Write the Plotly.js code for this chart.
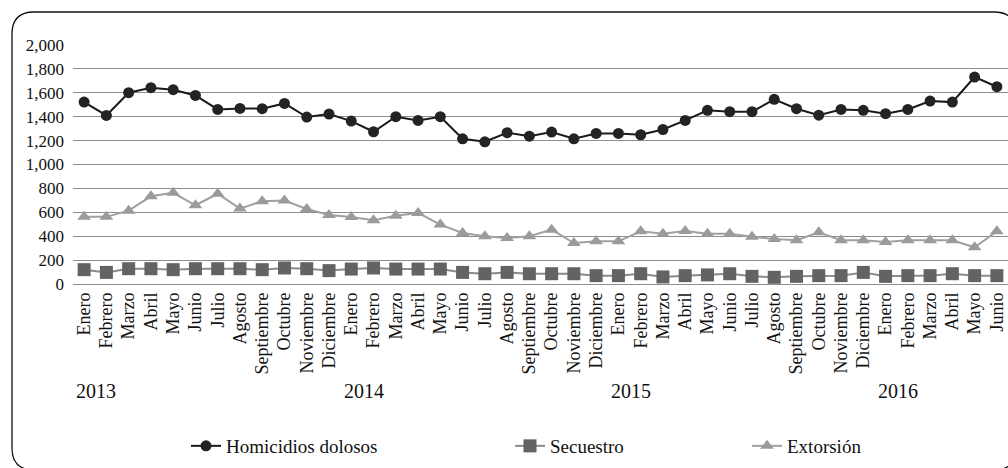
<!DOCTYPE html>
<html>
<head>
<meta charset="utf-8">
<script src="https://cdn.plot.ly/plotly-3.0.1.min.js"></script>
<style>
  html, body { margin: 0; padding: 0; background: #fff; }
  #chart { width: 1008px; height: 468px; }
</style>
</head>
<body>
<div id="chart"></div>
<script>
// ---- Data ----
const months = ["Enero","Febrero","Marzo","Abril","Mayo","Junio","Julio","Agosto","Septiembre","Octubre","Noviembre","Diciembre"];
const years = ["2013","2014","2015","2016"];
const monthsInLastYear = 6;

const homicidios = [1522,1411,1601,1643,1626,1578,1461,1469,1467,1511,1397,1422,
                    1363,1274,1400,1369,1400,1215,1190,1266,1237,1271,1215,1260,
                    1260,1249,1293,1369,1453,1442,1442,1545,1467,1413,1461,1453,
                    1425,1461,1531,1522,1732,1651];
const secuestro  = [120,97,128,128,120,128,128,128,120,134,128,112,
                    125,134,125,125,125,97,86,97,86,86,86,70,
                    70,86,59,70,76,86,64,56,64,70,70,97,
                    64,70,70,86,70,70];
const extorsion  = [562,562,614,734,763,659,755,631,693,698,628,578,
                    561,533,572,595,497,427,399,385,399,455,343,357,
                    357,441,421,444,421,421,396,377,366,433,366,366,
                    352,366,366,366,307,441];

// ---- Build categories ----
const tickText = [];
years.forEach((y, i) => {
  const n = (i === years.length - 1) ? monthsInLastYear : 12;
  for (let m = 0; m < n; m++) tickText.push(months[m]);
});
const xIdx = tickText.map((_, i) => i);

// ---- Geometry helpers (pixel -> paper) ----
const W = 1008, H = 468;
const M = { l: 73, r: 0, t: 45, b: 184 };
const PW = W - M.l - M.r, PH = H - M.t - M.b;
const px = v => (v - M.l) / PW;
const py = v => (H - M.b - v) / PH;

const FONT = 'Liberation Serif, Times New Roman, serif';

const traces = [
  { x: xIdx, y: homicidios, name: "Homicidios dolosos", type: "scatter", mode: "lines+markers",
    line: { color: "#1a1a1a", width: 2 }, marker: { symbol: "circle", size: 11, color: "#232323" },
    legend: "legend" },
  { x: xIdx, y: secuestro, name: "Secuestro", type: "scatter", mode: "lines+markers",
    line: { color: "#8a8a8a", width: 2 }, marker: { symbol: "square", size: 13, color: "#636363" },
    legend: "legend2" },
  { x: xIdx, y: extorsion, name: "Extorsión", type: "scatter", mode: "lines+markers",
    line: { color: "#a0a0a0", width: 2 }, marker: { symbol: "triangle-up", size: 12, color: "#9b9b9b" },
    legend: "legend3" }
];

// Rounded frame
const fx0 = px(12), fx1 = px(1016), fy0 = py(12), fy1 = py(470);
const rX = 22 / PW, rY = 22 / PH;
const framePath = `M ${fx0 + rX},${fy0} L ${fx1 - rX},${fy0} Q ${fx1},${fy0} ${fx1},${fy0 - rY} ` +
  `L ${fx1},${fy1 + rY} Q ${fx1},${fy1} ${fx1 - rX},${fy1} L ${fx0 + rX},${fy1} ` +
  `Q ${fx0},${fy1} ${fx0},${fy1 + rY} L ${fx0},${fy0 - rY} Q ${fx0},${fy0} ${fx0 + rX},${fy0} Z`;

const yearAnn = years.map((y, i) => ({
  text: y, xref: "x", yref: "paper", x: 12 * i + 0.55, y: py(391),
  xanchor: "center", yanchor: "middle", showarrow: false,
  font: { family: FONT, size: 20, color: "#111" }
}));

const legBase = { orientation: "h", yanchor: "middle", xanchor: "left", y: py(446),
  font: { family: FONT, size: 19, color: "#111" }, bgcolor: "rgba(0,0,0,0)", borderwidth: 0 };

const layout = {
  width: W, height: H, margin: M,
  paper_bgcolor: "#fff", plot_bgcolor: "#fff",
  font: { family: FONT, color: "#111" },
  showlegend: true,
  xaxis: {
    range: [-0.5, tickText.length - 0.5], tickmode: "array", tickvals: xIdx, ticktext: tickText,
    tickangle: -90, showgrid: false, zeroline: false, showline: false, ticks: "",
    tickfont: { family: FONT, size: 18, color: "#111" }, ticklabelstandoff: 4
  },
  yaxis: {
    range: [0, 2000], dtick: 200, tickformat: ",", showgrid: true, gridcolor: "#8e8e8e", gridwidth: 1,
    zeroline: true, zerolinecolor: "#8e8e8e", zerolinewidth: 1, showline: false, ticks: "",
    tickfont: { family: FONT, size: 17, color: "#111" }, ticklabelstandoff: 8
  },
  legend: Object.assign({}, legBase, { x: px(186) }),
  legend2: Object.assign({}, legBase, { x: px(510) }),
  legend3: Object.assign({}, legBase, { x: px(747) }),
  annotations: yearAnn,
  shapes: [{ type: "path", xref: "paper", yref: "paper", path: framePath,
             line: { color: "#111", width: 1.3 }, fillcolor: "rgba(0,0,0,0)", layer: "above" }]
};

Plotly.newPlot("chart", traces, layout, { displayModeBar: false, staticPlot: true });
</script>
</body>
</html>
